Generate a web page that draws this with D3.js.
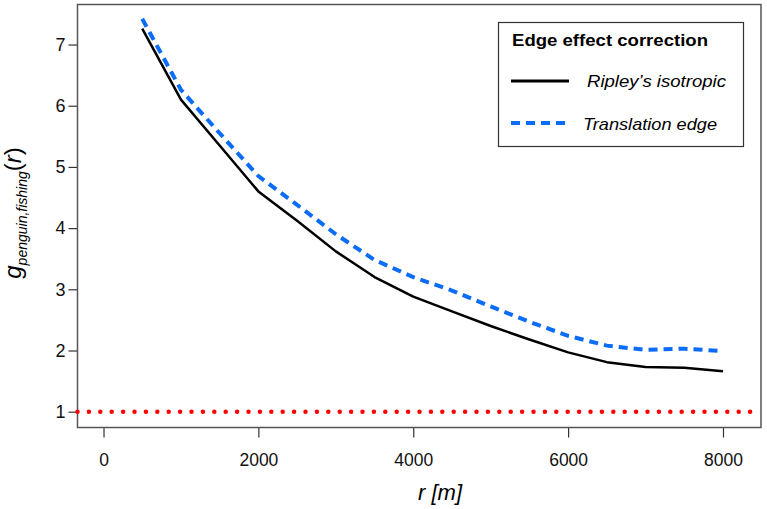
<!DOCTYPE html>
<head>
<meta charset="utf-8">
<title>Pair correlation</title>
<script src="https://d3js.org/d3.v7.min.js"></script>
<style>
  body { margin: 0; background: #fff; }
  text { font-family: "Liberation Sans", Arial, sans-serif; }
</style>
</head>
<body>
<div id="chart"></div>
<script>

  // distance r in metres
  var rValues = [500, 1000, 1500, 2000, 2500, 3000, 3500, 4000, 4500, 5000, 5500, 6000, 6500, 7000, 7500, 8000];
  var ripley = [7.26, 6.10, 5.35, 4.60, 4.12, 3.62, 3.20, 2.88, 2.64, 2.40, 2.18, 1.97, 1.81, 1.73, 1.72, 1.66];
  var translation = [7.42, 6.26, 5.55, 4.85, 4.38, 3.90, 3.48, 3.20, 2.98, 2.72, 2.47, 2.24, 2.08, 2.01, 2.03, 1.99];
  var xTicks = [0, 2000, 4000, 6000, 8000];
  var yTicks = [1, 2, 3, 4, 5, 6, 7];
  var legendLabels = ["Ripley\u2019s isotropic", "Translation edge"];

  var width = 767, height = 509;
  var plotLeft = 77.5, plotRight = 761, plotTop = 4.5, plotBottom = 427.5;

  var svg = d3.select("#chart")
    .append("svg")
      .attr("width", width)
      .attr("height", height);

  var x = d3.scaleLinear()
    .domain([-336, 8491])
    .range([plotLeft, plotRight]);

  var y = d3.scaleLinear()
    .domain([0.742, 7.654])
    .range([plotBottom, plotTop]);

  // axes
  var xAxis = svg.append("g")
    .attr("transform", "translate(0," + plotBottom + ")")
    .call(d3.axisBottom(x).tickValues(xTicks).tickSize(10).tickPadding(16).tickFormat(d3.format("d")));
  xAxis.select(".domain").remove();
  xAxis.selectAll("line").attr("stroke", "#333").attr("stroke-width", 1.2);
  xAxis.selectAll("text").style("font-size", "17.5px").attr("fill", "#111");

  var yAxis = svg.append("g")
    .attr("transform", "translate(" + plotLeft + ",0)")
    .call(d3.axisLeft(y).tickValues(yTicks).tickSize(9).tickPadding(3).tickFormat(d3.format("d")));
  yAxis.select(".domain").remove();
  yAxis.selectAll("line").attr("stroke", "#333").attr("stroke-width", 1.2);
  yAxis.selectAll("text").style("font-size", "18px").attr("fill", "#111");

  // plot box
  svg.append("rect")
    .attr("x", plotLeft)
    .attr("y", plotTop)
    .attr("width", plotRight - plotLeft)
    .attr("height", plotBottom - plotTop)
    .attr("fill", "none")
    .attr("stroke", "#555")
    .attr("stroke-width", 1.5);

  // reference line g = 1
  svg.append("line")
    .attr("x1", plotLeft)
    .attr("x2", plotRight)
    .attr("y1", y(1))
    .attr("y2", y(1))
    .attr("stroke", "#ff0000")
    .attr("stroke-width", 4.5)
    .attr("stroke-linecap", "round")
    .attr("stroke-dasharray", "0,11.4");

  var line = function(vals) {
    return d3.line()
      .x(function(d, i) { return x(rValues[i]); })
      .y(function(d) { return y(d); })(vals);
  };

  svg.append("path")
    .attr("d", line(translation))
    .attr("fill", "none")
    .attr("stroke", "#0a6cf7")
    .attr("stroke-width", 4)
    .attr("stroke-dasharray", "9,6");

  svg.append("path")
    .attr("d", line(ripley))
    .attr("fill", "none")
    .attr("stroke", "#000")
    .attr("stroke-width", 2.5)
    .attr("stroke-linejoin", "round");

  // axis titles
  svg.append("text")
    .attr("x", 440)
    .attr("y", 500)
    .attr("text-anchor", "middle")
    .style("font-size", "22px")
    .style("font-style", "italic")
    .text("r [m]");

  var yl = svg.append("text")
    .attr("transform", "translate(21,213) rotate(-90)")
    .attr("text-anchor", "middle")
    .style("font-size", "24px");
  yl.append("tspan").style("font-style", "italic").text("g");
  yl.append("tspan").attr("dy", 6).style("font-size", "14px").style("font-style", "italic").text("penguin,fishing");
  yl.append("tspan").attr("dy", -6).text("(");
  yl.append("tspan").style("font-style", "italic").text("r");
  yl.append("tspan").text(")");

  // legend
  var lg = svg.append("g");
  lg.append("rect")
    .attr("x", 498.5)
    .attr("y", 22.5)
    .attr("width", 245)
    .attr("height", 124)
    .attr("fill", "#fff")
    .attr("stroke", "#333")
    .attr("stroke-width", 1.2);
  lg.append("text")
    .attr("x", 512)
    .attr("y", 46)
    .attr("textLength", 196)
    .attr("lengthAdjust", "spacingAndGlyphs")
    .style("font-size", "16px")
    .style("font-weight", "bold")
    .text("Edge effect correction");
  lg.append("line")
    .attr("x1", 511).attr("x2", 569)
    .attr("y1", 81).attr("y2", 81)
    .attr("stroke", "#000").attr("stroke-width", 3);
  lg.append("line")
    .attr("x1", 511).attr("x2", 569)
    .attr("y1", 123).attr("y2", 123)
    .attr("stroke", "#0a6cf7").attr("stroke-width", 4)
    .attr("stroke-dasharray", "9,6");
  lg.selectAll("text.item")
    .data(legendLabels)
    .enter()
    .append("text")
      .attr("class", "item")
      .attr("x", function(d, i) { return i === 0 ? 587 : 583; })
      .attr("y", function(d, i) { return 87 + i * 43; })
      .attr("textLength", function(d, i) { return i === 0 ? 139 : 134; })
      .attr("lengthAdjust", "spacingAndGlyphs")
      .style("font-size", "16.5px")
      .style("font-style", "italic")
      .text(function(d) { return d; });

</script>
</body>
